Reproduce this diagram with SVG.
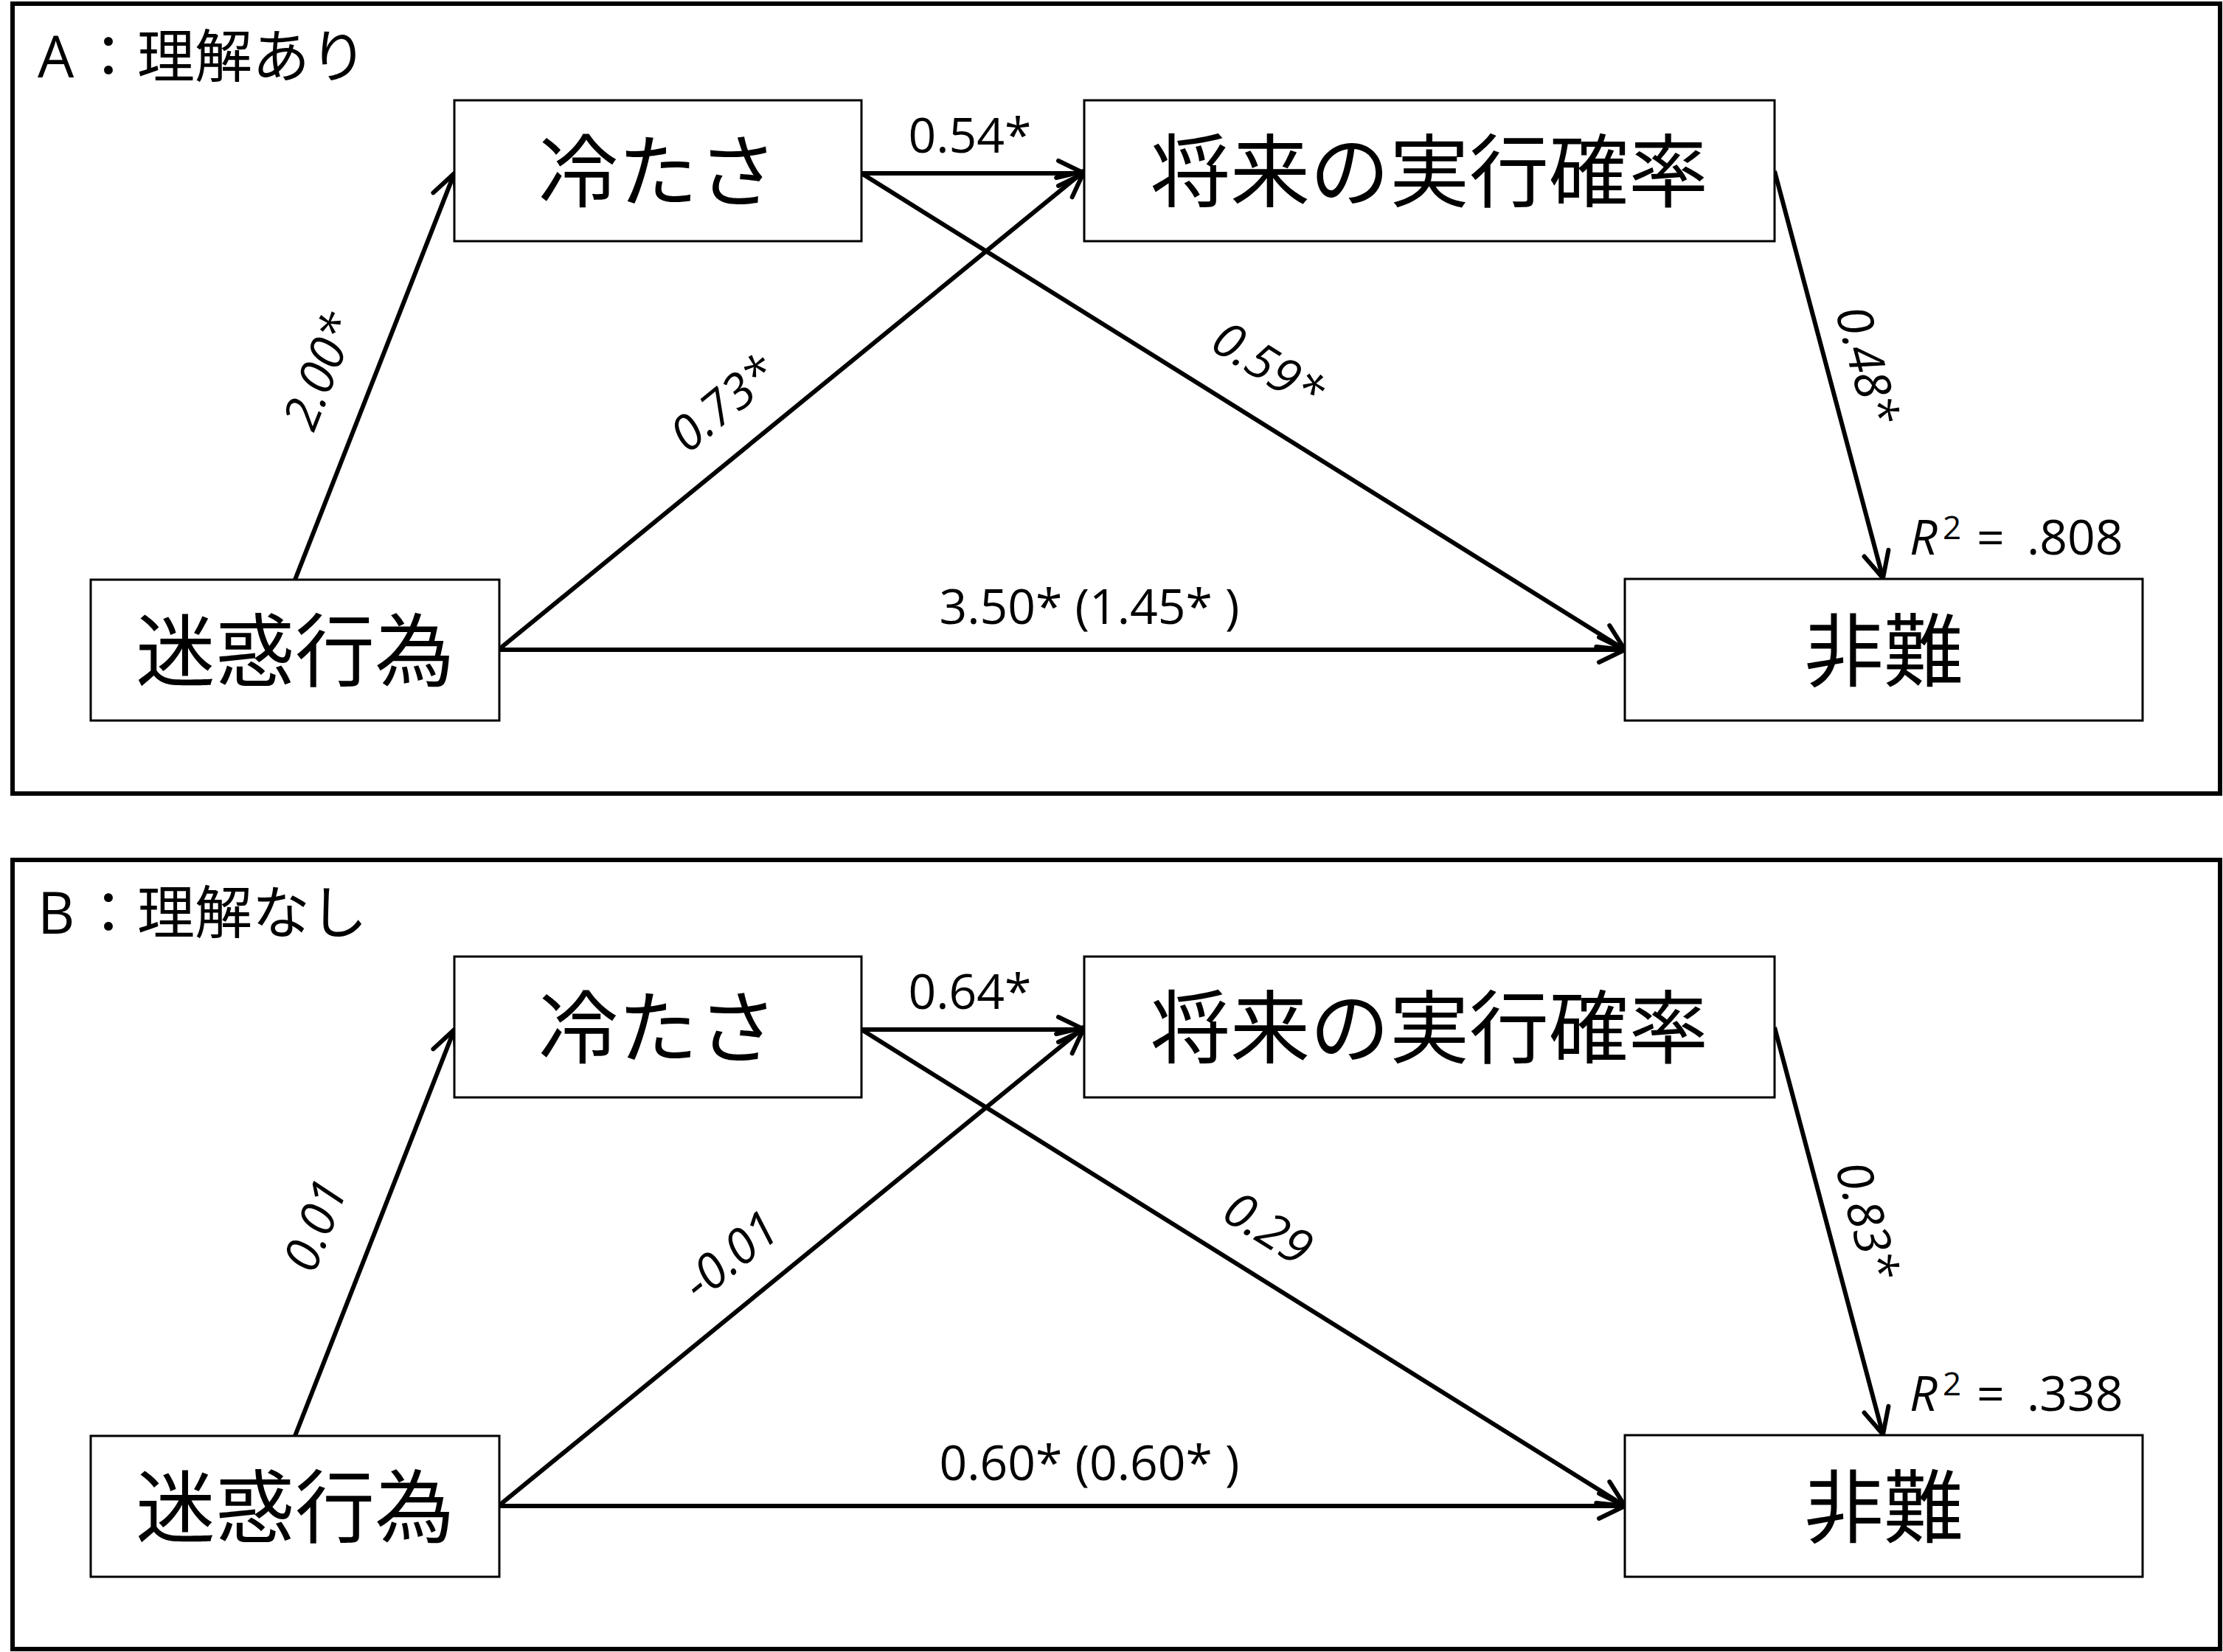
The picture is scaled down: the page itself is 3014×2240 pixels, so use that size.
<svg xmlns="http://www.w3.org/2000/svg" width="3014" height="2240" viewBox="0 0 3014 2240">
<defs>
<marker id="arr" markerUnits="userSpaceOnUse" markerWidth="60" markerHeight="60" viewBox="-50 -30 60 60" refX="0" refY="0" orient="auto">
<path d="M -35 -17 L 0 0 L -35 17" fill="none" stroke="#000" stroke-width="6" stroke-linecap="round" stroke-linejoin="round"/>
</marker>
</defs>
<style>
.frame{fill:none;stroke:#000;stroke-width:6}
.box{fill:#fff;stroke:#000;stroke-width:3}
.node{font-family:"Noto Sans CJK JP",sans-serif;font-size:108px;text-anchor:middle;fill:#000}
.title{font-family:"Open Sans","Noto Sans CJK JP",sans-serif;font-size:78px;fill:#000}
.lab{font-family:"Open Sans","Noto Sans",sans-serif;font-size:66px;fill:#000;text-anchor:middle}
.r2{font-family:"Open Sans","Noto Sans",sans-serif;font-size:66px;fill:#000}
.it{font-style:italic}
.edge{stroke:#000;stroke-width:6;fill:none;marker-end:url(#arr)}
</style>
<rect class="frame" x="17" y="5" width="2993" height="1071"/>
<rect class="frame" x="17" y="1166" width="2993" height="1070"/>
<text class="title" x="51" y="105">A<tspan x="108">：理解あり</tspan></text>
<text class="title" x="51" y="1266">B<tspan x="108">：理解なし</tspan></text>

<g id="connectors-A">
<path class="edge" d="M400,786 L616,235"/>
<path class="edge" d="M677,880 L1470,232"/>
<path class="edge" d="M1168,235 L1470,235"/>
<path class="edge" d="M1168,235 L2203,881"/>
<path class="edge" d="M677,881 L2203,881"/>
<path class="edge" d="M2406,232 L2553,784"/>
</g>
<g id="connectors-B">
<path class="edge" d="M400,1947 L616,1396"/>
<path class="edge" d="M677,2041 L1470,1393"/>
<path class="edge" d="M1168,1396 L1470,1396"/>
<path class="edge" d="M1168,1396 L2203,2042"/>
<path class="edge" d="M677,2042 L2203,2042"/>
<path class="edge" d="M2406,1393 L2553,1945"/>
</g>

<g id="labels-A">
<text class="lab" x="1315" y="207">0.54*</text>
<text class="lab" x="1477" y="846">3.50* (1.45* )</text>
<text class="lab it" transform="translate(455,512) rotate(-68.6)">2.00*</text>
<text class="lab it" transform="translate(995,565) rotate(-39.3)">0.73*</text>
<text class="lab it" transform="translate(1707,515) rotate(32)">0.59*</text>
<text class="lab it" transform="translate(2509,501) rotate(75.1)">0.48*</text>
<text class="r2" y="752"><tspan class="it" x="2589">R</tspan><tspan x="2634" y="731" font-size="44">2</tspan><tspan x="2680" y="752">=</tspan><tspan x="2748">.808</tspan></text>
</g>
<g id="labels-B">
<text class="lab" x="1315" y="1368">0.64*</text>
<text class="lab" x="1477" y="2007">0.60* (0.60* )</text>
<text class="lab it" transform="translate(449,1670) rotate(-68.6)">0.01</text>
<text class="lab it" transform="translate(1005,1720) rotate(-39.3)">-0.01</text>
<text class="lab it" transform="translate(1707,1685) rotate(32)">0.29</text>
<text class="lab it" transform="translate(2509,1661) rotate(75.1)">0.83*</text>
<text class="r2" y="1913"><tspan class="it" x="2589">R</tspan><tspan x="2634" y="1892" font-size="44">2</tspan><tspan x="2680" y="1913">=</tspan><tspan x="2748">.338</tspan></text>
</g>

<g id="node-A-coldness"><rect class="box" x="616" y="136" width="552" height="191"/><text class="node" x="892" y="272">冷たさ</text></g>
<g id="node-A-probability"><rect class="box" x="1470" y="136" width="936" height="191"/><text class="node" x="1938" y="272">将来の実行確率</text></g>
<g id="node-A-nuisance"><rect class="box" x="123" y="786" width="554" height="191"/><text class="node" x="400" y="922">迷惑行為</text></g>
<g id="node-A-blame"><rect class="box" x="2203" y="785" width="702" height="192"/><text class="node" x="2554" y="922">非難</text></g>

<g id="node-B-coldness"><rect class="box" x="616" y="1297" width="552" height="191"/><text class="node" x="892" y="1433">冷たさ</text></g>
<g id="node-B-probability"><rect class="box" x="1470" y="1297" width="936" height="191"/><text class="node" x="1938" y="1433">将来の実行確率</text></g>
<g id="node-B-nuisance"><rect class="box" x="123" y="1947" width="554" height="191"/><text class="node" x="400" y="2083">迷惑行為</text></g>
<g id="node-B-blame"><rect class="box" x="2203" y="1946" width="702" height="192"/><text class="node" x="2554" y="2083">非難</text></g>
</svg>
